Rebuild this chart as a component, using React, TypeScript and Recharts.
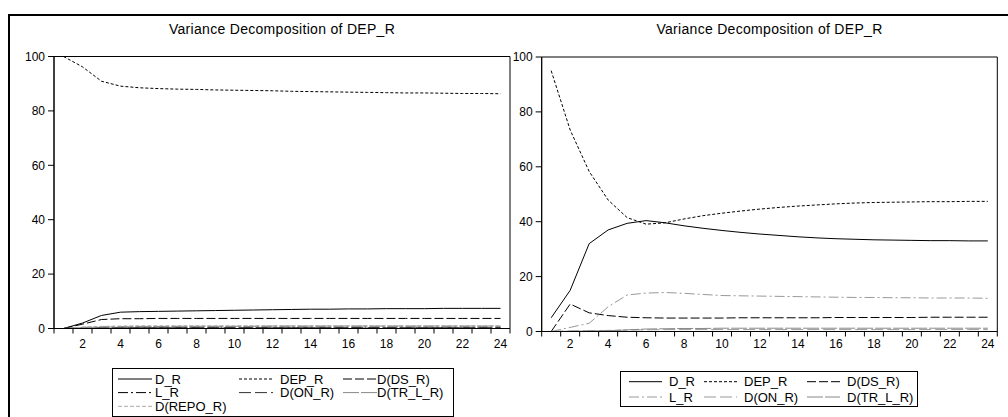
import React from 'react';
import { LineChart, Line, XAxis, YAxis, ReferenceArea, Legend } from 'recharts';

// ---------- data ----------
const periods = [1, 2, 3, 4, 5, 6, 7, 8, 9, 10, 11, 12, 13, 14, 15, 16, 17, 18, 19, 20, 21, 22, 23, 24];
const xBoundaries = [0.5, 1.5, 2.5, 3.5, 4.5, 5.5, 6.5, 7.5, 8.5, 9.5, 10.5, 11.5, 12.5, 13.5, 14.5, 15.5, 16.5, 17.5, 18.5, 19.5, 20.5, 21.5, 22.5, 23.5, 24.5];
const xLabels = [2, 4, 6, 8, 10, 12, 14, 16, 18, 20, 22, 24];
const yTicks = [0, 20, 40, 60, 80, 100];
const chartTitle = 'Variance Decomposition of DEP_R';

// left panel
const leftDR = [0, 2.0, 4.8, 6.0, 6.2, 6.3, 6.4, 6.5, 6.6, 6.7, 6.8, 6.9, 7.0, 7.1, 7.1, 7.2, 7.2, 7.3, 7.3, 7.3, 7.4, 7.4, 7.4, 7.4];
const leftDEP = [100, 96.2, 90.9, 89.1, 88.5, 88.2, 88.0, 87.9, 87.7, 87.6, 87.5, 87.4, 87.2, 87.1, 87.0, 86.9, 86.8, 86.7, 86.6, 86.6, 86.5, 86.4, 86.4, 86.3];
const leftDS = [0, 1.6, 3.3, 3.6, 3.6, 3.7, 3.7, 3.7, 3.7, 3.7, 3.7, 3.7, 3.7, 3.7, 3.7, 3.7, 3.7, 3.7, 3.7, 3.7, 3.7, 3.7, 3.7, 3.7];
const leftLR = [0, 0.4, 0.5, 0.5, 0.5, 0.5, 0.5, 0.5, 0.5, 0.5, 0.5, 0.5, 0.5, 0.5, 0.5, 0.5, 0.5, 0.5, 0.5, 0.5, 0.5, 0.5, 0.5, 0.5];
const leftON = [0, 0.2, 0.3, 0.3, 0.3, 0.3, 0.3, 0.3, 0.3, 0.3, 0.3, 0.3, 0.3, 0.3, 0.3, 0.3, 0.3, 0.3, 0.3, 0.3, 0.3, 0.3, 0.3, 0.3];
const leftTR = [0, 0.3, 0.5, 0.6, 0.7, 0.7, 0.8, 0.8, 0.8, 0.8, 0.8, 0.9, 0.9, 0.9, 0.9, 0.9, 0.9, 0.9, 0.9, 0.9, 0.9, 0.9, 0.9, 0.9];
const leftREPO = [0, 0.5, 0.8, 0.9, 1.0, 1.0, 1.0, 1.0, 1.0, 1.0, 1.0, 1.0, 1.0, 1.0, 1.0, 1.0, 1.0, 1.0, 1.0, 1.0, 1.0, 1.0, 1.0, 1.0];

// right panel
const rightDR = [5.0, 15.0, 32.0, 37.0, 39.4, 40.4, 39.6, 38.5, 37.6, 36.8, 36.1, 35.5, 35.0, 34.5, 34.1, 33.8, 33.6, 33.4, 33.3, 33.2, 33.1, 33.1, 33.0, 33.0];
const rightDEP = [95.0, 73.4, 58.3, 47.9, 41.5, 39.1, 39.6, 41.0, 42.2, 43.1, 43.9, 44.6, 45.2, 45.7, 46.1, 46.5, 46.8, 47.0, 47.1, 47.2, 47.3, 47.3, 47.4, 47.4];
const rightDS = [0, 10.0, 6.8, 5.8, 5.2, 5.0, 4.9, 4.9, 4.9, 4.9, 5.0, 5.0, 5.0, 5.0, 5.0, 5.1, 5.1, 5.1, 5.1, 5.1, 5.2, 5.2, 5.2, 5.2];
const rightLR = [0, 1.5, 3.0, 9.0, 13.3, 14.0, 14.2, 13.9, 13.5, 13.1, 13.0, 12.9, 12.8, 12.7, 12.6, 12.5, 12.4, 12.4, 12.3, 12.3, 12.2, 12.2, 12.2, 12.1];
const rightON = [0, 0.2, 0.3, 0.4, 0.5, 0.6, 0.7, 0.7, 0.7, 0.7, 0.7, 0.7, 0.7, 0.7, 0.7, 0.7, 0.7, 0.7, 0.7, 0.7, 0.7, 0.7, 0.7, 0.7];
const rightTR = [0, 0.1, 0.2, 0.3, 0.6, 0.9, 1.0, 1.1, 1.1, 1.2, 1.2, 1.2, 1.2, 1.2, 1.2, 1.2, 1.2, 1.2, 1.2, 1.2, 1.2, 1.2, 1.2, 1.2];

// ---------- styles ----------
type SeriesStyle = { key: string; name: string; values: number[]; stroke: string; dash?: string };

const leftSeries: SeriesStyle[] = [
  { key: 'dr', name: 'D_R', values: leftDR, stroke: '#000' },
  { key: 'dep', name: 'DEP_R', values: leftDEP, stroke: '#000', dash: '3 2' },
  { key: 'ds', name: 'D(DS_R)', values: leftDS, stroke: '#000', dash: '9 3' },
  { key: 'lr', name: 'L_R', values: leftLR, stroke: '#000', dash: '10 3 2 3' },
  { key: 'on', name: 'D(ON_R)', values: leftON, stroke: '#333', dash: '12 4' },
  { key: 'tr', name: 'D(TR_L_R)', values: leftTR, stroke: '#888', dash: '16 2' },
  { key: 'repo', name: 'D(REPO_R)', values: leftREPO, stroke: '#aaa', dash: '4 2' },
];

const rightSeries: SeriesStyle[] = [
  { key: 'dr', name: 'D_R', values: rightDR, stroke: '#000' },
  { key: 'dep', name: 'DEP_R', values: rightDEP, stroke: '#000', dash: '3 2' },
  { key: 'ds', name: 'D(DS_R)', values: rightDS, stroke: '#000', dash: '9 3' },
  { key: 'lr', name: 'L_R', values: rightLR, stroke: '#999', dash: '10 3 2 3' },
  { key: 'on', name: 'D(ON_R)', values: rightON, stroke: '#999', dash: '12 4' },
  { key: 'tr', name: 'D(TR_L_R)', values: rightTR, stroke: '#888', dash: '16 2' },
];

const buildData = (series: SeriesStyle[]) =>
  periods.map((p, i) => {
    const row: Record<string, number> = { period: p };
    series.forEach((s) => {
      row[s.key] = s.values[i];
    });
    return row;
  });

type LegendLayout = {
  left: number;
  top: number;
  width: number;
  height: number;
  lineX: number[];
  lineLen: number;
  textX: number[];
  rowY: number[];
};

const renderLegendBox = (series: SeriesStyle[], lay: LegendLayout) => () => (
  <svg width={lay.width} height={lay.height} style={{ display: 'block' }}>
    <rect x={0.5} y={0.5} width={lay.width - 1} height={lay.height - 1} fill="#fff" stroke="#000" strokeWidth={1} />
    {series.map((s, i) => {
      const col = i % 3;
      const row = Math.floor(i / 3);
      const y = lay.rowY[row];
      return (
        <g key={s.key}>
          <line x1={lay.lineX[col]} x2={lay.lineX[col] + lay.lineLen} y1={y} y2={y} stroke={s.stroke} strokeWidth={1} strokeDasharray={s.dash} />
          <text x={lay.textX[col]} y={y} dy="0.36em" fontSize={13} fill="#000" textAnchor="start">
            {s.name}
          </text>
        </g>
      );
    })}
  </svg>
);

type PanelProps = {
  series: SeriesStyle[];
  pageLeft: number;
  width: number;
  yAxisWidth: number;
  marginRight: number;
  marginTop: number;
  marginBottom: number;
  labelMargin: number;
  legend: LegendLayout;
};

const Panel = ({ series, pageLeft, width, yAxisWidth, marginRight, marginTop, marginBottom, labelMargin, legend }: PanelProps) => {
  const data = buildData(series);
  const plotLeft = yAxisWidth;
  const plotRight = width - marginRight;
  return (
    <div style={{ position: 'absolute', left: pageLeft, top: 0, width, height: 417 }}>
      <div
        style={{
          position: 'absolute',
          left: plotLeft,
          width: plotRight - plotLeft,
          top: 21,
          textAlign: 'center',
          fontSize: 14,
          letterSpacing: 0.3,
          lineHeight: '16px',
          color: '#000',
          whiteSpace: 'nowrap',
        }}
      >
        {chartTitle}
      </div>
      <LineChart
        width={width}
        height={417}
        data={data}
        margin={{ top: marginTop, right: marginRight, bottom: marginBottom, left: 0 }}
        style={{ position: 'absolute', left: 0, top: 0 }}
      >
        <XAxis
          xAxisId="a"
          type="number"
          dataKey="period"
          domain={[0.5, 24.5]}
          ticks={xBoundaries}
          interval={0}
          tickFormatter={() => ''}
          tickSize={5}
          height={1}
          axisLine={{ stroke: '#000' }}
          tickLine={{ stroke: '#000' }}
        />
        <XAxis
          xAxisId="b"
          type="number"
          dataKey="period"
          domain={[0.5, 24.5]}
          ticks={xLabels}
          interval={0}
          tickLine={false}
          axisLine={false}
          tickSize={0}
          tickMargin={labelMargin}
          height={20}
          tick={{ fill: '#000', fontSize: 12 }}
        />
        <YAxis
          type="number"
          domain={[0, 100]}
          ticks={yTicks}
          interval={0}
          width={yAxisWidth}
          tickSize={6}
          tickMargin={3}
          axisLine={{ stroke: '#000' }}
          tickLine={{ stroke: '#000' }}
          tick={{ fill: '#000', fontSize: 12 }}
        />
        <ReferenceArea xAxisId="a" x1={0.5} x2={24.5} y1={0} y2={100} fill="none" stroke="#000" strokeWidth={1} />
        {series.map((s) => (
          <Line
            key={s.key}
            xAxisId="a"
            type="linear"
            dataKey={s.key}
            name={s.name}
            stroke={s.stroke}
            strokeWidth={1}
            strokeDasharray={s.dash}
            dot={false}
            activeDot={false}
            isAnimationActive={false}
          />
        ))}
        <Legend
          layout="horizontal"
          verticalAlign="middle"
          align="center"
          content={renderLegendBox(series, legend)}
          wrapperStyle={{ position: 'absolute', left: legend.left, top: legend.top, width: legend.width, height: legend.height }}
        />
      </LineChart>
    </div>
  );
};

export default function App() {
  return (
    <div
      style={{
        position: 'fixed',
        left: 0,
        top: 0,
        width: 1008,
        height: 417,
        background: '#fff',
        overflow: 'hidden',
        fontFamily: '"Liberation Sans", Arial, sans-serif',
      }}
    >
      <div
        style={{
          position: 'absolute',
          left: 8,
          top: 14,
          width: 1000,
          height: 403,
          borderTop: '2px solid #000',
          borderLeft: '2px solid #000',
          boxSizing: 'border-box',
        }}
      />
      <Panel
        series={leftSeries}
        pageLeft={0}
        width={520}
        yAxisWidth={54}
        marginRight={10}
        marginTop={56.5}
        marginBottom={67.5}
        labelMargin={9.5}
        legend={{ left: 112, top: 367.5, width: 342, height: 49, lineX: [6, 127, 231], lineLen: 34, textX: [43, 168, 265], rowY: [11, 24.6, 38.3] }}
      />
      <Panel
        series={rightSeries}
        pageLeft={504}
        width={504}
        yAxisWidth={37.7}
        marginRight={10.7}
        marginTop={57}
        marginBottom={64.5}
        labelMargin={6.5}
        legend={{ left: 116, top: 371, width: 298, height: 36, lineX: [9, 84, 187], lineLen: 33, textX: [49, 124, 227], rowY: [10.7, 26] }}
      />
    </div>
  );
}
